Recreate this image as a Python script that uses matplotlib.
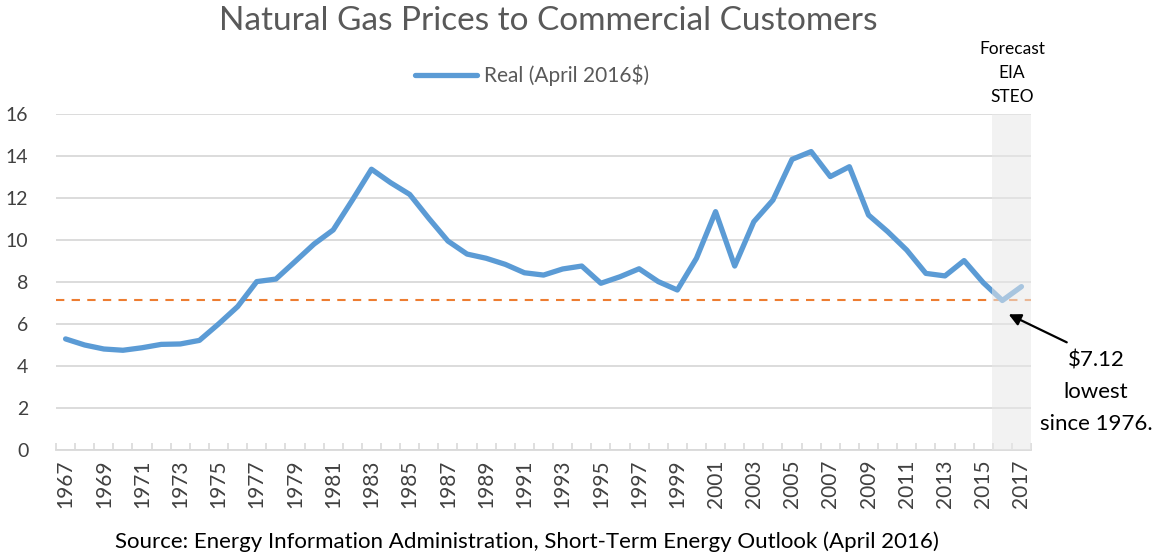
import numpy as np
import matplotlib
matplotlib.use("Agg")
import matplotlib.pyplot as plt

plt.rcParams['font.family'] = ['Lato', 'DejaVu Sans']

# real price, April 2016 dollars per thousand cubic feet
years = list(range(1967, 2018))
price = [5.29, 5.00, 4.81, 4.75, 4.87, 5.03, 5.05, 5.22, 6.00, 6.83,
         8.02, 8.14, 8.97, 9.81, 10.48, 11.90, 13.37, 12.73, 12.17, 11.03,
         9.95, 9.33, 9.13, 8.84, 8.44, 8.33, 8.62, 8.76, 7.94, 8.25,
         8.63, 8.02, 7.62, 9.13, 11.35, 8.76, 10.87, 11.90, 13.84, 14.21,
         13.02, 13.49, 11.19, 10.40, 9.52, 8.41, 8.29, 9.02, 7.97, 7.12,
         7.78]
lowest = 7.12
forecast_years = [2016, 2017]

x = np.arange(len(years))

fig = plt.figure(figsize=(11.6, 5.56), dpi=100)
ax = fig.add_axes([0.0483, 0.1906, 0.8405, 0.6044])

ax.plot(x, price, color='#5b9bd5', lw=3.8, solid_joinstyle='round',
        solid_capstyle='round', label='Real (April 2016$)', zorder=3)
ax.axhline(lowest, color='#ed7d31', lw=1.5, ls=(0, (4, 3.5)), zorder=2)

# forecast band drawn on top so the line looks faded inside it
i0 = years.index(forecast_years[0])
i1 = years.index(forecast_years[-1])
ax.axvspan(i0 - 0.55, i1 + 0.5, ymin=0, ymax=1, color='#e8e8e8', alpha=0.55,
           lw=0, zorder=4)

ax.set_xlim(-0.5, len(years) - 0.5)
ax.set_ylim(0, 16)
ax.set_yticks(range(0, 17, 2))
ax.yaxis.grid(True, color='#d9d9d9', lw=1.3)
ax.set_axisbelow(True)
ax.tick_params(axis='y', length=0, labelsize=14, labelcolor='#404040', pad=20)

ax.set_xticks(x[::2])
ax.set_xticklabels([str(y) for y in years[::2]], rotation=90)
ax.set_xticks(np.arange(len(years) + 1) - 0.5, minor=True)
ax.tick_params(axis='x', which='major', length=0, labelsize=15,
               labelcolor='#404040', pad=7)
ax.tick_params(axis='x', which='minor', direction='in', length=5,
               color='#d9d9d9', width=1.2)

for s in ['left', 'right', 'top']:
    ax.spines[s].set_visible(False)
ax.spines['bottom'].set_color('#d9d9d9')
ax.spines['bottom'].set_linewidth(1.3)

fig.text(0.473, 0.963, 'Natural Gas Prices to Commercial Customers',
         ha='center', va='center', fontsize=24, color='#595959')

leg = ax.legend(loc='center', bbox_to_anchor=(0.488, 1.115), frameon=False,
                fontsize=15, handlelength=3.0, handletextpad=0.3)
for t in leg.get_texts():
    t.set_color('#595959')

ax.text(i1 - 0.5, 16.45, 'Forecast\nEIA\nSTEO', ha='center', va='bottom',
        fontsize=12.5, color='black', linespacing=1.6)

ax.annotate('', xy=(years.index(2016) + 0.2, lowest - 0.6),
            xytext=(years.index(2016) + 3.5, lowest - 2.05),
            arrowprops=dict(arrowstyle='-|>', color='black', lw=1.6,
                            mutation_scale=18), annotation_clip=False,
            zorder=6)
ax.text(years.index(2016) + 4.9, lowest - 2.38, '$7.12\nlowest\nsince 1976.',
        ha='center', va='top', fontsize=16, linespacing=1.75,
        clip_on=False)

fig.text(0.454, 0.025,
         'Source: Energy Information Administration, Short-Term Energy Outlook (April 2016)',
         ha='center', va='center', fontsize=16, color='black')

fig.savefig('out.png', dpi=100)
